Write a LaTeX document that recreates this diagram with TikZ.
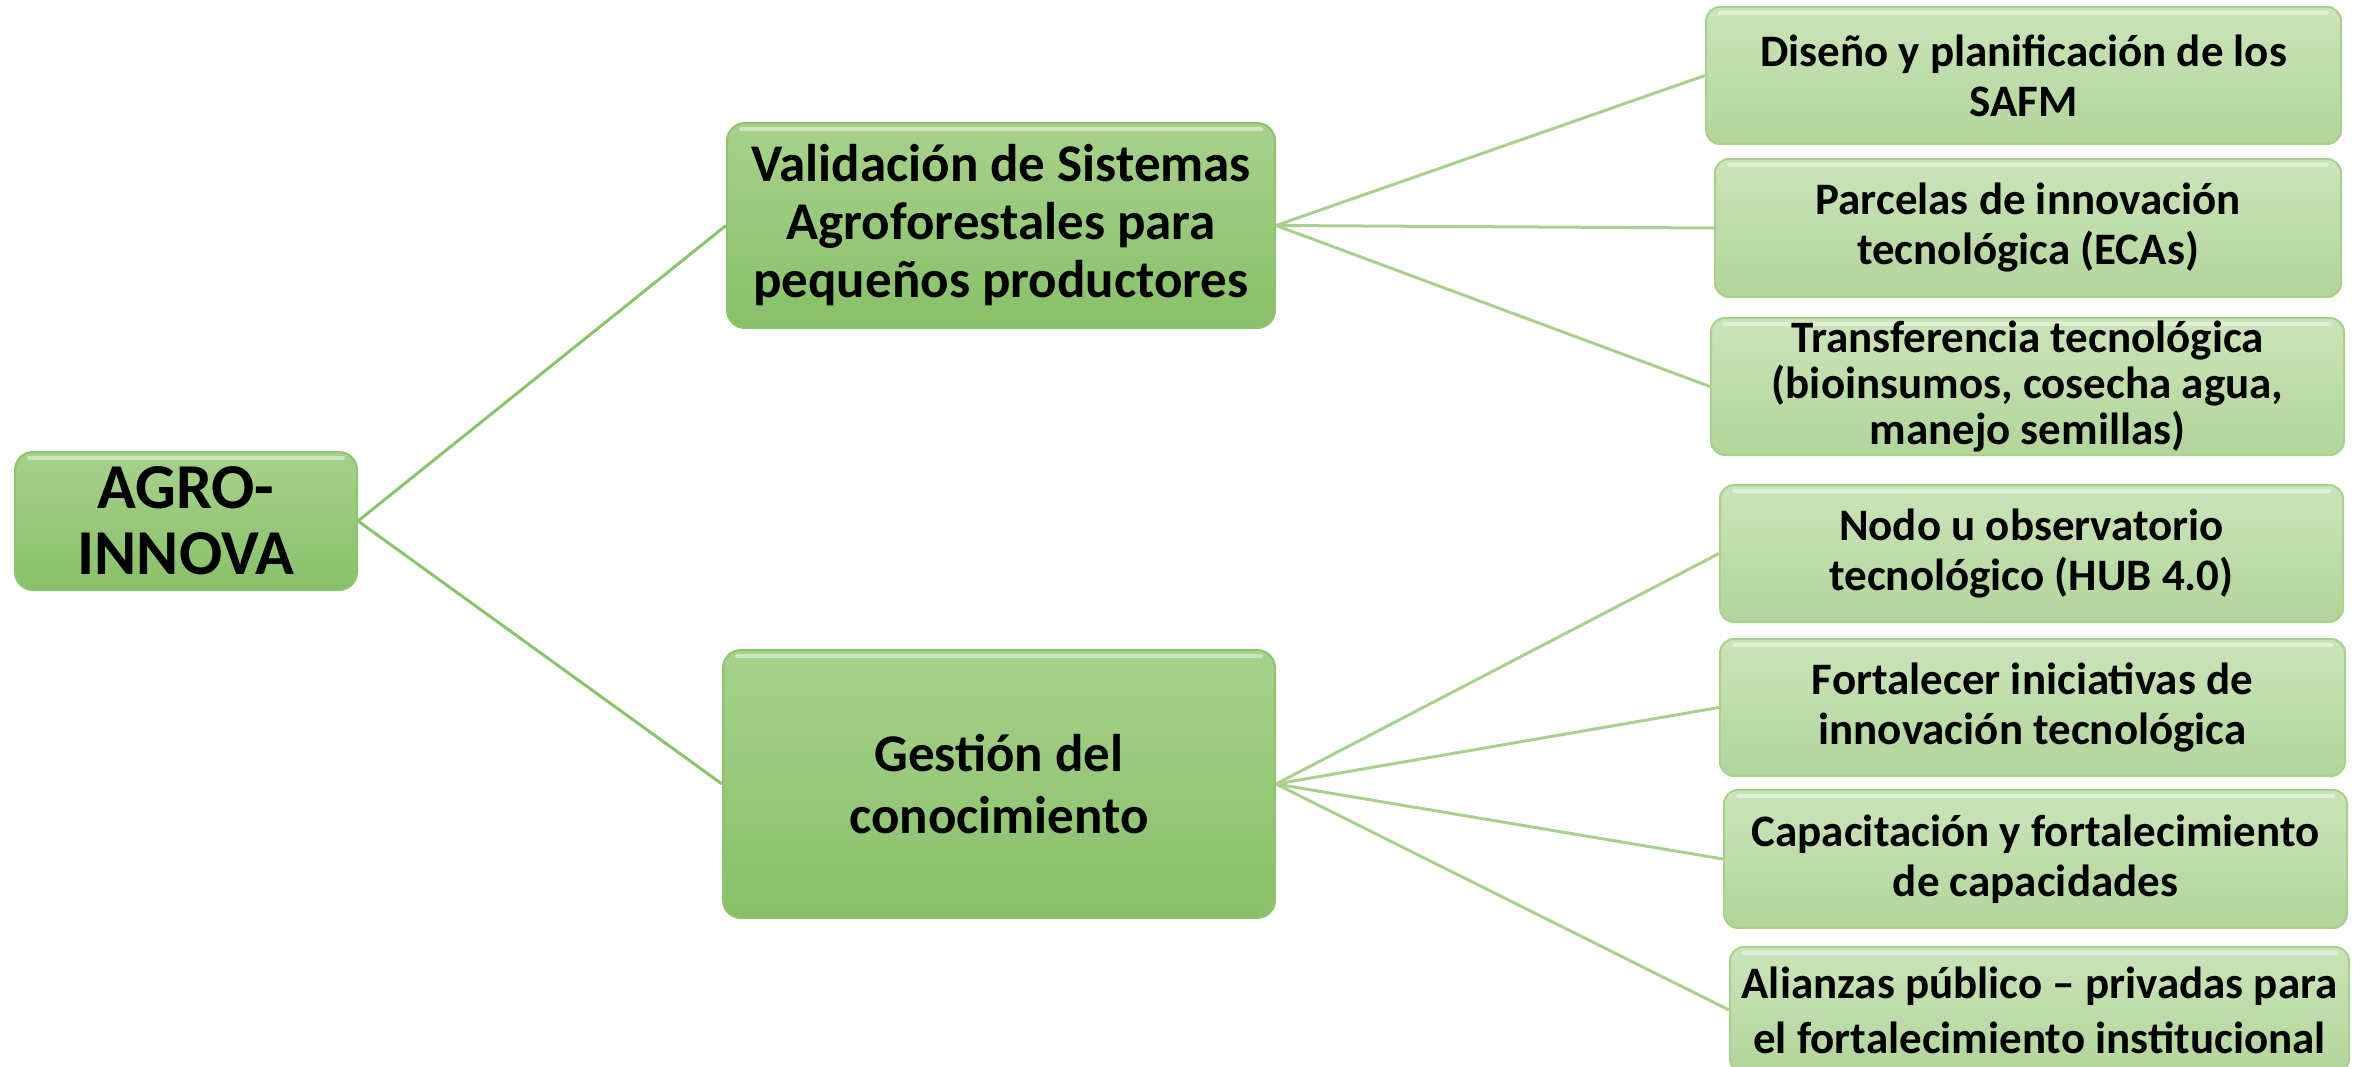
\documentclass[tikz,border=0pt]{standalone}
\usepackage{fontspec}
\setmainfont{Carlito}
\usetikzlibrary{shadings}
\definecolor{darktop}{HTML}{A8D18C}
\definecolor{darkbot}{HTML}{88C068}
\definecolor{darkline}{HTML}{8DC46F}
\definecolor{lighttop}{HTML}{CBE4BA}
\definecolor{lightbot}{HTML}{B2D59B}
\definecolor{lightline}{HTML}{A9D18E}
\definecolor{connA}{HTML}{8CC46E}
\definecolor{connB}{HTML}{A9D18E}
\tikzset{
  box/.style={rectangle, inner sep=0pt, align=center, font=\bfseries,
    path picture={\draw[white, opacity=0.45, line width=4pt, line cap=round]
      ([xshift=14pt,yshift=-6pt]path picture bounding box.north west) --
      ([xshift=-14pt,yshift=-6pt]path picture bounding box.north east);}},
  darkbox/.style={box, top color=darktop, bottom color=darkbot, draw=darkline, line width=2pt, rounded corners=18pt},
  lightbox/.style={box, top color=lighttop, bottom color=lightbot, draw=lightline, line width=2pt, rounded corners=14pt,
     font=\fontsize{45}{50}\selectfont\bfseries},
  connA/.style={draw=connA, line width=3pt},
  connB/.style={draw=connB, line width=3pt}
}
\begin{document}
\begin{tikzpicture}[x=1pt,y=-1pt]
\useasboundingbox (0,0) rectangle (2361,1066);
% root
\node[darkbox, minimum width=342pt, minimum height=138pt, font=\fontsize{64}{66}\selectfont\bfseries] (root) at (186,521) {AGRO-\\INNOVA};
% mid
\node[darkbox, minimum width=548pt, minimum height=205pt, font=\fontsize{53}{58}\selectfont\bfseries] (m1) at (1001,225.5) {Validación de Sistemas\\Agroforestales para\\pequeños productores};
\node[darkbox, minimum width=552pt, minimum height=268pt, font=\fontsize{53}{62}\selectfont\bfseries] (m2) at (999,784) {Gestión del\\conocimiento};
% leaves
\node[lightbox, minimum width=635pt, minimum height=137pt] (l1) at (2023.5,75.5) {Diseño y planificación de los\\SAFM};
\node[lightbox, minimum width=626pt, minimum height=138pt] (l2) at (2028,228) {Parcelas de innovación\\tecnológica (ECAs)};
\node[lightbox, minimum width=633pt, minimum height=137pt, font=\fontsize{45}{46}\selectfont\bfseries] (l3) at (2027.5,386.5) {Transferencia tecnológica\\(bioinsumos, cosecha agua,\\manejo semillas)};
\node[lightbox, minimum width=623pt, minimum height=137pt] (l4) at (2031.5,553.5) {Nodo u observatorio\\tecnológico (HUB 4.0)};
\node[lightbox, minimum width=625pt, minimum height=137pt] (l5) at (2032.5,707.5) {Fortalecer iniciativas de\\innovación tecnológica};
\node[lightbox, minimum width=623pt, minimum height=138pt] (l6) at (2035.5,859) {Capacitación y fortalecimiento\\de capacidades};
\node[lightbox, minimum width=619pt, minimum height=126pt, font=\fontsize{45}{55}\selectfont\bfseries] (l7) at (2039.5,1010) {Alianzas público – privadas para\\el fortalecimiento institucional};
% connectors
\draw[connA] (root.east) -- (m1.west);
\draw[connA] (root.east) -- (m2.west);
\foreach \l in {l1,l2,l3} \draw[connB] (m1.east) -- (\l.west);
\foreach \l in {l4,l5,l6,l7} \draw[connB] (m2.east) -- (\l.west);
\end{tikzpicture}
\end{document}
